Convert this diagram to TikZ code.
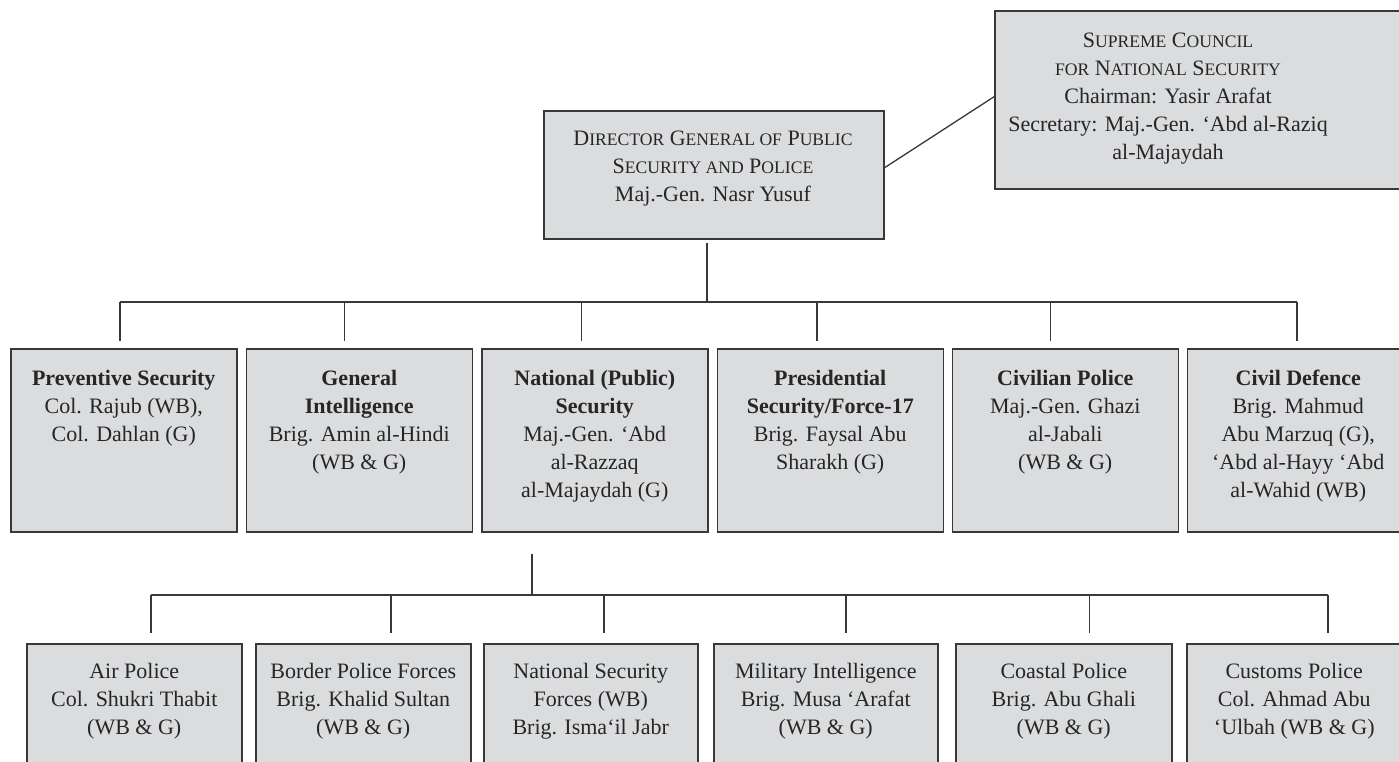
\documentclass[tikz,border=0pt]{standalone}
\usepackage{fontspec}
\setmainfont{Liberation Serif}
\definecolor{boxfill}{HTML}{DBDCDE}
\definecolor{linecol}{HTML}{383838}
\newcommand\smc[1]{{\fontsize{17.6}{28}\selectfont #1}}
\newcommand\btext[1]{\parbox[t]{440pt}{\centering\fontsize{22}{28}\selectfont #1}}
\begin{document}
\begin{tikzpicture}[x=1pt,y=-1pt,
  box/.style={draw=linecol, fill=boxfill, line width=1.5pt, inner sep=0pt, anchor=north west},
  conn/.style={draw=linecol, line width=1.3pt},
  txt/.style={inner sep=0pt, anchor=base, text=black!85}]
\useasboundingbox (0,0) rectangle (1399,761);
\fill[white] (0,0) rectangle (1399,761);
\clip (0,0) rectangle (1399,761);

% top level
\node[box, minimum width=340pt, minimum height=128pt] (dir) at (543,110) {};
\node[txt] (dirt) at (713,145) {\btext{D\smc{IRECTOR} G\smc{ENERAL OF} P\smc{UBLIC}\\S\smc{ECURITY AND} P\smc{OLICE}\\Maj.-Gen. Nasr Yusuf}};
\node[box, minimum width=416pt, minimum height=178pt] (sup) at (994,10) {};
\node[txt] (supt) at (1168,47) {\btext{S\smc{UPREME} C\smc{OUNCIL}\\\smc{FOR} N\smc{ATIONAL} S\smc{ECURITY}\\Chairman: Yasir Arafat\\Secretary: Maj.-Gen. ‘Abd al-Raziq\\al-Majaydah}};
\draw[conn] ([yshift=7pt]dir.east) -- ([yshift=3pt]sup.west);

% second row
\foreach \i/\x in {1/10,2/245.5,3/481,4/716.5,5/951.5,6/1186.5}{
  \node[box, minimum width=226pt, minimum height=183pt] (r\i) at (\x,348) {};
}
\node[txt] (r1t) at (r1.north |- 0,385) {\btext{\textbf{Preventive Security}\\Col. Rajub (WB),\\Col. Dahlan (G)}};
\node[txt] (r2t) at (r2.north |- 0,385) {\btext{\textbf{General}\\\textbf{Intelligence}\\Brig. Amin al-Hindi\\(WB \& G)}};
\node[txt] (r3t) at (r3.north |- 0,385) {\btext{\textbf{National (Public)}\\\textbf{Security}\\Maj.-Gen. ‘Abd\\al-Razzaq\\al-Majaydah (G)}};
\node[txt] (r4t) at (r4.north |- 0,385) {\btext{\textbf{Presidential}\\\textbf{Security/Force-17}\\Brig. Faysal Abu\\Sharakh (G)}};
\node[txt] (r5t) at (r5.north |- 0,385) {\btext{\textbf{Civilian Police}\\Maj.-Gen. Ghazi\\al-Jabali\\(WB \& G)}};
\node[txt] (r6t) at ([xshift=-2pt]r6.north |- 0,385) {\btext{\textbf{Civil Defence}\\Brig. Mahmud\\Abu Marzuq (G),\\‘Abd al-Hayy ‘Abd\\al-Wahid (WB)}};

\coordinate (d0) at (707,243);
\coordinate (bus1) at (707,302);
\draw[conn] (d0) -- (bus1);
\foreach \i/\x in {1/120,2/344.5,3/581.5,4/817,5/1050.5,6/1297}{
  \coordinate (a\i) at (\x,302);
  \coordinate (b\i) at (\x,341);
  \draw[conn] (a\i) -- (b\i);
}
\draw[conn] (a1) -- (a6);

% third row
\foreach \i/\x/\w in {1/26/215,2/255/215,3/483/214,4/713/224,5/955/216,6/1186/215}{
  \node[box, minimum width=\w pt, minimum height=140pt] (s\i) at (\x,643) {};
}
\node[txt] (s1t) at (s1.north |- 0,678) {\btext{Air Police\\Col. Shukri Thabit\\(WB \& G)}};
\node[txt] (s2t) at (s2.north |- 0,678) {\btext{Border Police Forces\\Brig. Khalid Sultan\\(WB \& G)}};
\node[txt] (s3t) at (s3.north |- 0,678) {\btext{National Security\\Forces (WB)\\Brig. Isma‘il Jabr}};
\node[txt] (s4t) at (s4.north |- 0,678) {\btext{Military Intelligence\\Brig. Musa ‘Arafat\\(WB \& G)}};
\node[txt] (s5t) at (s5.north |- 0,678) {\btext{Coastal Police\\Brig. Abu Ghali\\(WB \& G)}};
\node[txt] (s6t) at (s6.north |- 0,678) {\btext{Customs Police\\Col. Ahmad Abu\\‘Ulbah (WB \& G)}};

\coordinate (n0) at (532,554);
\coordinate (bus2) at (532,595);
\draw[conn] (n0) -- (bus2);
\foreach \i/\x in {1/151,2/391,3/604,4/846,5/1089.5,6/1328}{
  \coordinate (c\i) at (\x,595);
  \coordinate (e\i) at (\x,633);
  \draw[conn] (c\i) -- (e\i);
}
\draw[conn] (c1) -- (c6);
\end{tikzpicture}
\end{document}
